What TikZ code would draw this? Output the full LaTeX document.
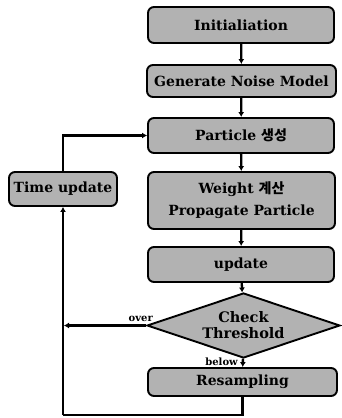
\documentclass[tikz,border=0pt]{standalone}
\usepackage{fontspec}
\setmainfont{DejaVu Serif}
\newfontfamily\krfont{Noto Sans CJK KR}
\usetikzlibrary{shapes.geometric,arrows.meta}
\begin{document}
\begin{tikzpicture}[x=1pt,y=-1pt,
  flowbox/.style={draw=black,line width=1.9pt,rounded corners=6pt,fill=black!30,
    inner sep=0pt,align=center,font=\bfseries\fontsize{14}{22}\selectfont},
  decision/.style={draw=black,line width=1.9pt,fill=black!30,shape=diamond,aspect=3,
    inner sep=0pt,align=center,font=\bfseries\fontsize{14.5}{16}\selectfont},
  conn/.style={line width=2.3pt,-{Latex[length=5pt,width=6pt]}},
  plain/.style={line width=2.3pt},
  lbl/.style={font=\bfseries\fontsize{10}{10}\selectfont,inner sep=0pt}]
\useasboundingbox (0,0) rectangle (341,418);
\node[flowbox,minimum width=186pt,minimum height=36pt] (init) at (241,25) {Initialiation};
\node[flowbox,minimum width=189pt,minimum height=32pt] (gen) at (241.5,81) {Generate Noise Model};
\node[flowbox,minimum width=186pt,minimum height=35pt] (part) at (241,135.5) {Particle {\krfont 생성}};
\node[flowbox,minimum width=187pt,minimum height=57pt] (weight) at (241.5,200.5) {Weight {\krfont 계산}\\Propagate Particle};
\node[flowbox,minimum width=186pt,minimum height=35pt] (upd) at (241,264.5) {update};
\node[decision,minimum width=193pt,minimum height=65pt] (chk) at (243.5,325.5) {Check\\Threshold};
\node[flowbox,minimum width=189pt,minimum height=28pt] (res) at (242.5,382) {Resampling};
\node[flowbox,minimum width=108pt,minimum height=34pt] (time) at (63,189) {Time update};
\coordinate (ov) at (64,325.5);
\coordinate (b1) at (242.5,415);
\coordinate (b2) at (63,415);
\coordinate (t1) at (63,135.5);
\draw[conn] (init) -- (gen);
\draw[conn] (gen) -- (part);
\draw[conn] (part) -- (weight);
\draw[conn] (weight) -- (upd);
\draw[conn] (upd) -- (chk);
\draw[conn] (chk) -- (res);
\draw[conn] (chk.west) -- (ov);
\draw[plain,line join=miter] (res.south) -- (b1) -- (b2);
\draw[conn,line join=miter] (b2) -- (time.south);
\draw[conn,line join=miter] (time.north) -- (t1) -- (part.west);
\node[lbl,anchor=south east] (over) at (153,322) {over};
\node[lbl,anchor=south east] (below) at (238,366) {below};
\end{tikzpicture}
\end{document}
